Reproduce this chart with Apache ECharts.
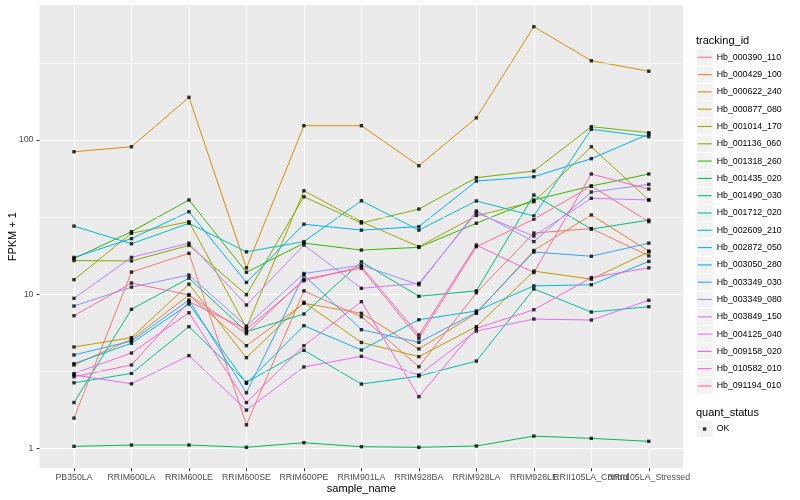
<!DOCTYPE html>
<html><head><meta charset="utf-8">
<script src="https://cdn.jsdelivr.net/npm/echarts@6/dist/echarts.min.js"></script>
<style>html,body{margin:0;padding:0;background:#fff}#c{width:800px;height:500px}</style>
</head><body><div id="c"></div>
<script>
// ---- data ----
const categories = ['PB350LA','RRIM600LA','RRIM600LE','RRIM600SE','RRIM600PE','RRIM901LA','RRIM928BA','RRIM928LA','RRIM928LE','RRII105LA_Control','RRII105LA_Stressed'];
const yTickValues = [1, 10, 100];
const yMinorValues = [3.1623, 31.623, 316.23];
const trackingIds = ['Hb_000390_110','Hb_000429_100','Hb_000622_240','Hb_000877_080','Hb_001014_170','Hb_001136_060','Hb_001318_260','Hb_001435_020','Hb_001490_030','Hb_001712_020','Hb_002609_210','Hb_002872_050','Hb_003050_280','Hb_003349_030','Hb_003349_080','Hb_003849_150','Hb_004125_040','Hb_009158_020','Hb_010582_010','Hb_091194_010'];
const quantStatus = ['OK'];

const Hb_000390_110 = [1.57, 13.9, 18.4, 1.42, 10.5, 7.13, 3.38, 10.2, 24.9, 26.6, 17.7];
const Hb_000429_100 = [3.47, 5.09, 9.87, 4.63, 8.71, 7.51, 4.41, 7.51, 19.2, 32.6, 19.0];
const Hb_000622_240 = [83.8, 90.3, 189, 14.8, 123.6, 123.6, 68.0, 139, 542, 326, 279];
const Hb_000877_080 = [4.54, 5.22, 11.6, 3.87, 8.85, 4.86, 3.93, 6.15, 14.1, 12.5, 18.8];
const Hb_001014_170 = [12.4, 24.8, 29.5, 6.05, 46.8, 29.5, 20.3, 32.2, 39.7, 90.3, 40.8];
const Hb_001136_060 = [16.5, 16.4, 20.7, 9.91, 42.8, 28.9, 35.6, 56.9, 62.8, 121.8, 111.4];
const Hb_001318_260 = [17.0, 25.4, 40.8, 13.85, 21.4, 19.3, 20.1, 28.8, 40.8, 50.2, 60.1];
const Hb_001435_020 = [1.03, 1.05, 1.05, 1.015, 1.087, 1.024, 1.015, 1.035, 1.20, 1.16, 1.11];
const Hb_001490_030 = [1.98, 7.97, 12.7, 5.70, 7.43, 16.2, 9.68, 10.5, 43.9, 26.4, 30.2];
const Hb_001712_020 = [2.66, 3.06, 6.15, 2.68, 4.32, 2.61, 2.94, 3.68, 10.8, 7.65, 8.28];
const Hb_002609_210 = [27.6, 21.2, 28.8, 18.8, 21.9, 40.3, 26.0, 40.2, 32.1, 117.2, 104.9];
const Hb_002872_050 = [3.54, 4.80, 8.63, 2.64, 6.24, 4.34, 6.82, 7.77, 11.3, 11.5, 16.3];
const Hb_003050_280 = [17.3, 22.9, 34.2, 11.9, 28.4, 26.0, 27.4, 54.1, 57.7, 75.5, 109.2];
const Hb_003349_030 = [4.03, 4.96, 9.16, 2.29, 13.3, 5.88, 4.87, 7.60, 18.75, 17.6, 21.4];
const Hb_003349_080 = [8.37, 11.1, 13.3, 6.21, 13.6, 15.4, 11.5, 34.6, 21.9, 45.9, 51.5];
const Hb_003849_150 = [9.39, 17.3, 21.4, 8.50, 20.8, 10.9, 11.75, 33.6, 23.8, 41.8, 40.8];
const Hb_004125_040 = [2.99, 2.62, 3.99, 1.77, 3.37, 3.95, 2.99, 5.76, 6.89, 6.79, 9.12];
const Hb_009158_020 = [3.06, 4.15, 7.57, 1.98, 4.63, 8.93, 2.16, 6.00, 7.92, 12.8, 14.8];
const Hb_010582_010 = [2.91, 3.47, 8.93, 5.91, 12.2, 15.1, 5.43, 20.8, 13.8, 60.1, 48.0];
const Hb_091194_010 = [7.24, 11.8, 9.87, 5.54, 12.5, 14.7, 5.17, 20.3, 30.6, 50.2, 29.5];

const seriesValues = [Hb_000390_110, Hb_000429_100, Hb_000622_240, Hb_000877_080, Hb_001014_170, Hb_001136_060, Hb_001318_260, Hb_001435_020, Hb_001490_030, Hb_001712_020, Hb_002609_210, Hb_002872_050, Hb_003050_280, Hb_003349_030, Hb_003349_080, Hb_003849_150, Hb_004125_040, Hb_009158_020, Hb_010582_010, Hb_091194_010];

// ---- styles ----
const colors = ['#F8766D','#EA8331','#D89000','#C09B00','#A3A500','#7CAE00','#39B600','#00BB4E','#00BF7D','#00C1A3','#00BFC4','#00BAE0','#00B0F6','#35A2FF','#9590FF','#C77CFF','#E76BF3','#FA62DB','#FF62BC','#FF6C91'];
const FONT = '"Liberation Sans", Arial, sans-serif';
const lg = v => Math.log10(v);
const yMin = -0.1297, yMax = 2.8749;
const catIdx = categories.map((c, i) => i);
const evenIdx = catIdx.filter(i => i % 2 === 0);
const oddIdx = catIdx.filter(i => i % 2 === 1);

const minorGridSeries = {
  name: '__minor', type: 'line', data: [], silent: true, z: 1,
  markLine: {
    silent: true, symbol: 'none', animation: false,
    label: { show: false },
    lineStyle: { color: '#FFFFFF', width: 0.55, type: 'solid' },
    emphasis: { disabled: true },
    data: yMinorValues.map(v => ({ yAxis: lg(v) }))
  }
};

const lineSeries = trackingIds.map((id, k) => ({
  name: id, type: 'line', xAxisIndex: 0, yAxisIndex: 0,
  data: seriesValues[k].map((v, i) => [i, lg(v)]),
  showSymbol: false, symbol: 'none', silent: true,
  color: colors[k],
  itemStyle: { color: colors[k] },
  lineStyle: { color: colors[k], width: 1 },
  z: 2
}));
const pointData = [];
seriesValues.forEach(arr => arr.forEach((v, i) => pointData.push([i, lg(v)])));
const pointSeries = {
  name: quantStatus[0], type: 'scatter', data: pointData,
  symbol: 'rect', symbolSize: 3.4, silent: true,
  itemStyle: { color: '#000000' }, color: '#000000', z: 3
};

const keyStep = 17.3, key0 = 57.3, okY = 429;
const graphics = [];
trackingIds.forEach((id, i) => {
  graphics.push({ type: 'rect', z: -1, shape: { x: 696, y: key0 + keyStep * i - keyStep / 2, width: 17.3, height: 17.3 },
    style: { fill: '#F2F2F2', stroke: '#FFFFFF', lineWidth: 1 } });
});
graphics.push({ type: 'rect', z: -1, shape: { x: 696, y: okY - keyStep / 2, width: 17.3, height: 17.3 }, style: { fill: '#F2F2F2', stroke: '#FFFFFF', lineWidth: 1 } });
graphics.push({ type: 'text', x: 696, y: 40.7, style: { text: 'tracking_id', font: '11px ' + FONT, fill: '#000', textAlign: 'left', textVerticalAlign: 'middle' } });
graphics.push({ type: 'text', x: 696, y: 412.7, style: { text: 'quant_status', font: '11px ' + FONT, fill: '#000', textAlign: 'left', textVerticalAlign: 'middle' } });
graphics.push({ type: 'text', x: 361.4, y: 489, style: { text: 'sample_name', font: '11px ' + FONT, fill: '#000', textAlign: 'center', textVerticalAlign: 'middle' } });
graphics.push({ type: 'text', x: 13, y: 236.7, rotation: Math.PI / 2, style: { text: 'FPKM + 1', font: '11px ' + FONT, fill: '#000', textAlign: 'center', textVerticalAlign: 'middle' } });

const xLabel = idx => ({ customValues: idx, formatter: v => categories[Math.round(v)] || '', color: '#4D4D4D', fontSize: 8.8, fontFamily: FONT, margin: 5, hideOverlap: false, showMinLabel: true, showMaxLabel: true });

const option = {
  animation: false,
  backgroundColor: '#FFFFFF',
  textStyle: { fontFamily: FONT },
  grid: { left: 39.5, top: 5, width: 643.8, height: 463.3, show: true, backgroundColor: '#EBEBEB', borderWidth: 0, containLabel: false },
  xAxis: [{
    type: 'value', min: -0.6, max: 10.6, position: 'bottom',
    axisLine: { show: false, onZero: false },
    axisTick: { show: true, customValues: catIdx, length: 3, lineStyle: { color: '#333333', width: 1 } },
    axisLabel: xLabel(evenIdx),
    splitLine: { show: true, lineStyle: { color: '#FFFFFF', width: 1.1 } }
  }, {
    type: 'value', min: -0.6, max: 10.6, position: 'bottom', offset: 0,
    axisLine: { show: false, onZero: false },
    axisTick: { show: false, customValues: oddIdx },
    axisLabel: xLabel(oddIdx),
    splitLine: { show: false }
  }],
  yAxis: {
    type: 'value', min: yMin, max: yMax, position: 'left',
    axisLine: { show: false, onZero: false },
    axisTick: { show: true, customValues: yTickValues.map(lg), length: 3, lineStyle: { color: '#333333', width: 1 } },
    axisLabel: { customValues: yTickValues.map(lg), formatter: v => String(Math.round(Math.pow(10, v))), color: '#4D4D4D', fontSize: 8.8, fontFamily: FONT, margin: 6, showMinLabel: true, showMaxLabel: true },
    splitLine: { show: true, lineStyle: { color: '#FFFFFF', width: 1.1 } }
  },
  legend: [{
    data: trackingIds, orient: 'vertical', left: 697.7, top: key0 - keyStep / 2, padding: 0,
    icon: 'rect', itemWidth: 14, itemHeight: 1.1, itemGap: 0, selectedMode: false,
    textStyle: { fontSize: 8.8, fontFamily: FONT, color: '#000', lineHeight: keyStep }
  }, {
    data: quantStatus, orient: 'vertical', left: 702.9, top: okY - keyStep / 2, padding: 0,
    icon: 'rect', itemWidth: 3.4, itemHeight: 3.4, itemGap: 0, selectedMode: false,
    textStyle: { fontSize: 8.8, fontFamily: FONT, color: '#000', lineHeight: keyStep, padding: [0, 0, 0, 5.4] }
  }],
  graphic: graphics,
  series: [minorGridSeries, ...lineSeries, pointSeries]
};
const chart = echarts.init(document.getElementById('c'), null, { renderer: 'canvas' });
chart.setOption(option);
</script></body></html>
